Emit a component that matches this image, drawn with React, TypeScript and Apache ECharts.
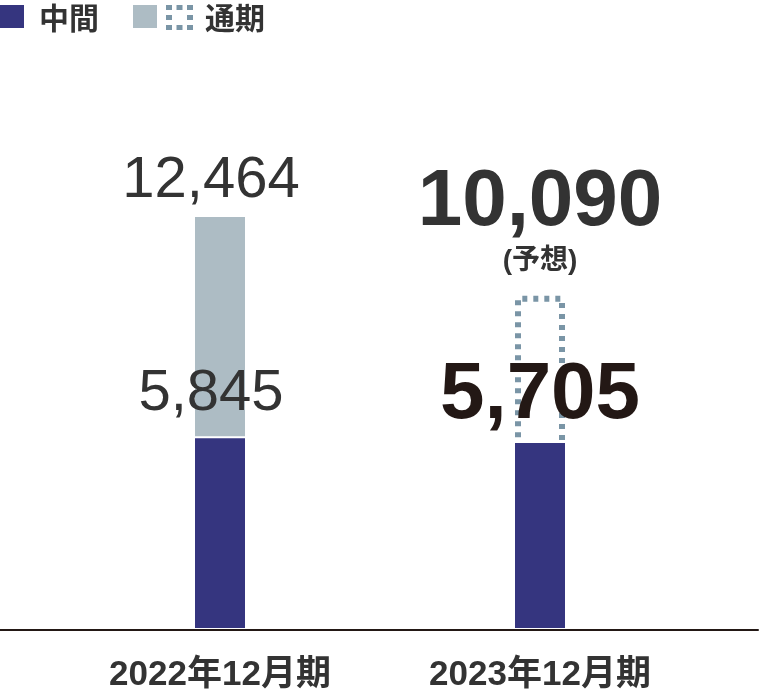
import React, { useEffect, useRef } from "react";
import * as echarts from "echarts";

const categories = ["2022年12月期", "2023年12月期"];
const interimValues = [5845, 5705];
const fullYearActual: (number | null)[] = [12464, null];
const fullYearForecast: (number | null)[] = [null, 10090];
const legendInterim = "中間";
const legendFull = "通期";
const forecastNote = "(予想)";

const NAVY = "#35357f";
const LIGHT = "#adbcc4";
const DOT = "#7a95a6";
const NUM_FONT = "'Liberation Sans', Arial, 'Noto Sans CJK JP', sans-serif";
const CJK_FONT = "'Liberation Sans', 'Noto Sans CJK JP', sans-serif";

const fmt = (v: number) => v.toLocaleString("en-US");

export default function App() {
  const ref = useRef<HTMLDivElement>(null);
  useEffect(() => {
    if (!ref.current) return;
    const chart = echarts.init(ref.current, null, { renderer: "svg" });

    const dots: any[] = [];
    const xs = [166, 176.5, 187];
    const ys = [5, 15, 25];
    ys.forEach((y, r) =>
      xs.forEach((x, c) => {
        if (r === 1 && c === 1) return;
        dots.push({
          type: "rect",
          shape: { x, y, width: 6, height: 5 },
          style: { fill: DOT },
        });
      })
    );

    chart.setOption({
      animation: false,
      grid: [
        { left: 60, right: 61, top: 133, bottom: 64 },
        { left: 0, right: 3, top: 133, bottom: 64 },
      ],
      xAxis: [
        {
          type: "category",
          gridIndex: 0,
          data: categories,
          axisLine: { show: false },
          axisTick: { show: false },
          axisLabel: {
            fontSize: 35,
            fontWeight: "bold",
            color: "#333",
            margin: 25,
            fontFamily: CJK_FONT,
          },
        },
        { type: "category", gridIndex: 0, data: categories, show: false },
        { type: "category", gridIndex: 0, data: categories, show: false },
        {
          type: "value",
          gridIndex: 1,
          min: 0,
          max: 1,
          z: 10,
          axisLine: { show: true, lineStyle: { color: "#231815", width: 2 } },
          axisTick: { show: false },
          axisLabel: { show: false },
          splitLine: { show: false },
        },
      ],
      yAxis: [
        { type: "value", gridIndex: 0, min: 0, max: 15000, show: false },
        { type: "value", gridIndex: 1, min: 0, max: 1, show: false },
      ],
      series: [
        {
          name: legendFull,
          type: "bar",
          xAxisIndex: 0,
          yAxisIndex: 0,
          barWidth: 50,
          z: 2,
          data: fullYearActual,
          itemStyle: { color: LIGHT },
          label: {
            show: true,
            position: "top",
            distance: 12,
            offset: [-9, 0],
            fontSize: 58,
            fontFamily: NUM_FONT,
            color: "#333",
            formatter: (p: any) => fmt(p.value),
          },
        },
        {
          name: legendFull + "予想",
          type: "bar",
          xAxisIndex: 1,
          yAxisIndex: 0,
          barWidth: 50,
          z: 2,
          data: fullYearForecast,
          itemStyle: {
            color: "rgba(0,0,0,0)",
            borderColor: DOT,
            borderWidth: 6,
            borderType: [5, 6],
          },
          label: {
            show: true,
            position: "top",
            distance: 20,
            formatter: (p: any) => `{a|${fmt(p.value)}}\n{b|${forecastNote}}`,
            rich: {
              a: {
                fontSize: 80,
                fontWeight: "bold",
                fontFamily: NUM_FONT,
                color: "#333",
                lineHeight: 92,
                align: "center",
              },
              b: {
                fontSize: 28,
                fontWeight: "bold",
                fontFamily: CJK_FONT,
                color: "#333",
                lineHeight: 32,
                align: "center",
              },
            },
          },
        },
        {
          name: legendInterim,
          type: "bar",
          xAxisIndex: 2,
          yAxisIndex: 0,
          barWidth: 54,
          z: 3,
          itemStyle: { color: NAVY, borderColor: "#fff", borderWidth: 2 },
          data: interimValues.map((v, i) => ({
            value: v,
            label:
              i === 0
                ? {
                    show: true,
                    position: "top",
                    distance: 18,
                    offset: [-9, 0],
                    fontSize: 58,
                    fontFamily: NUM_FONT,
                    color: "#333",
                    formatter: (p: any) => fmt(p.value),
                  }
                : {
                    show: true,
                    position: "top",
                    distance: 10,
                    fontSize: 80,
                    fontWeight: "bold",
                    fontFamily: NUM_FONT,
                    color: "#231815",
                    formatter: (p: any) => fmt(p.value),
                  },
          })),
        },
      ],
      graphic: [
        { type: "rect", shape: { x: 0, y: 5, width: 24, height: 23 }, style: { fill: NAVY } },
        {
          type: "text",
          x: 39,
          y: 18,
          style: {
            text: legendInterim,
            fontSize: 30,
            fontWeight: "bold",
            fontFamily: CJK_FONT,
            fill: "#333",
            verticalAlign: "middle",
          },
        },
        { type: "rect", shape: { x: 133, y: 5, width: 24, height: 23 }, style: { fill: LIGHT } },
        ...dots,
        {
          type: "text",
          x: 205,
          y: 18,
          style: {
            text: legendFull,
            fontSize: 30,
            fontWeight: "bold",
            fontFamily: CJK_FONT,
            fill: "#333",
            verticalAlign: "middle",
          },
        },
      ],
    });
    return () => chart.dispose();
  }, []);
  return (
    <div
      ref={ref}
      style={{ position: "fixed", left: 0, top: 0, width: 761, height: 694 }}
    />
  );
}
